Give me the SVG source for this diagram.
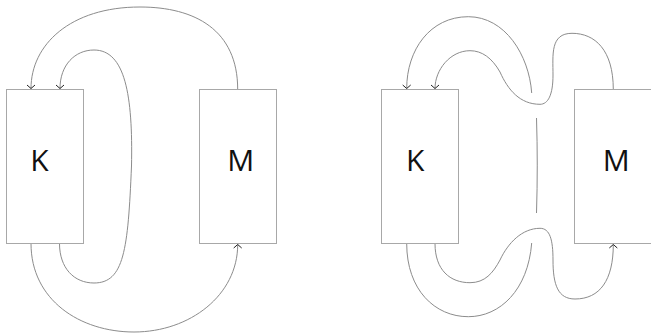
<svg xmlns="http://www.w3.org/2000/svg" width="651" height="333" viewBox="0 0 651 333">
<style>
.box{fill:#fff;stroke:#a8a8a8;stroke-width:1}
.lbl{font-family:"Open Sans","Noto Sans",sans-serif;font-size:30px;fill:#111;text-anchor:middle}
.c{fill:none;stroke:#8c8c8c;stroke-width:1}
</style>
<defs>
<marker id="arr" markerUnits="userSpaceOnUse" markerWidth="12" markerHeight="12" viewBox="-6 -6 12 12" refX="0" refY="0" orient="auto">
<path d="M-3.5,-4 L0,0 L-3.5,4" fill="none" stroke="#222" stroke-width="1"/>
</marker>
</defs>
<g id="connectors">
<!-- left panel -->
<path class="c" marker-end="url(#arr)" d="M237.7,89.5 C237.7,30 195,7 140,7 C70,7 31,45 31,88.5"/>
<path class="c" marker-end="url(#arr)" d="M59.5,243.5 C59.5,268 74,283 94,283 C124,283 128,250 131.5,166 C133,95 125,50 94,50 C75,50 60,65 60,88.5"/>
<path class="c" marker-end="url(#arr)" d="M31,243.5 C31,300 80,332 134,332 C190,332 237.7,295 237.7,244.5"/>
<!-- right panel -->
<path class="c" marker-end="url(#arr)" d="M531.7,93 C529,55 505,16.7 468.3,16.7 C430,16.7 406.7,50 406.7,88.5"/>
<path class="c" d="M536.5,118 C537.5,150 537.5,180 536.5,213"/>
<path class="c" d="M531.7,243 C528,290 500,316.7 468.3,316.7 C435,316.7 406.7,290 406.7,243.5"/>
<path class="c" marker-end="url(#arr)" d="M613.3,89.5 C613.3,50 595,33.3 572,33.3 C550,33.3 553,55 553,75 C553,95 548,104.3 540,104.3 C520,104.3 508,90 500,72 C492,58 482,50.7 470,50.7 C450,50.7 435,70 435,88.5"/>
<path class="c" marker-end="url(#arr)" d="M435,243.5 C435,270 450,282.7 470,282.7 C485,282.7 493,273 500,260 C508,243 522,228.3 540,228.3 C550,228.3 553,240 553,260 C553,285 558,299 575,299 C600,299 613.3,280 613.3,244.5"/>
</g>
<g id="K1"><rect class="box" x="6.5" y="89.5" width="77" height="154"/><text class="lbl" x="39.5" y="171">K</text></g>
<g id="M1"><rect class="box" x="199.5" y="89.5" width="77" height="154"/><text class="lbl" x="240.8" y="171">M</text></g>
<g id="K2"><rect class="box" x="381.5" y="89.5" width="77" height="154"/><text class="lbl" x="415.3" y="171">K</text></g>
<g id="M2"><rect class="box" x="574.5" y="89.5" width="77" height="154"/><text class="lbl" x="616.3" y="171">M</text></g>
</svg>
